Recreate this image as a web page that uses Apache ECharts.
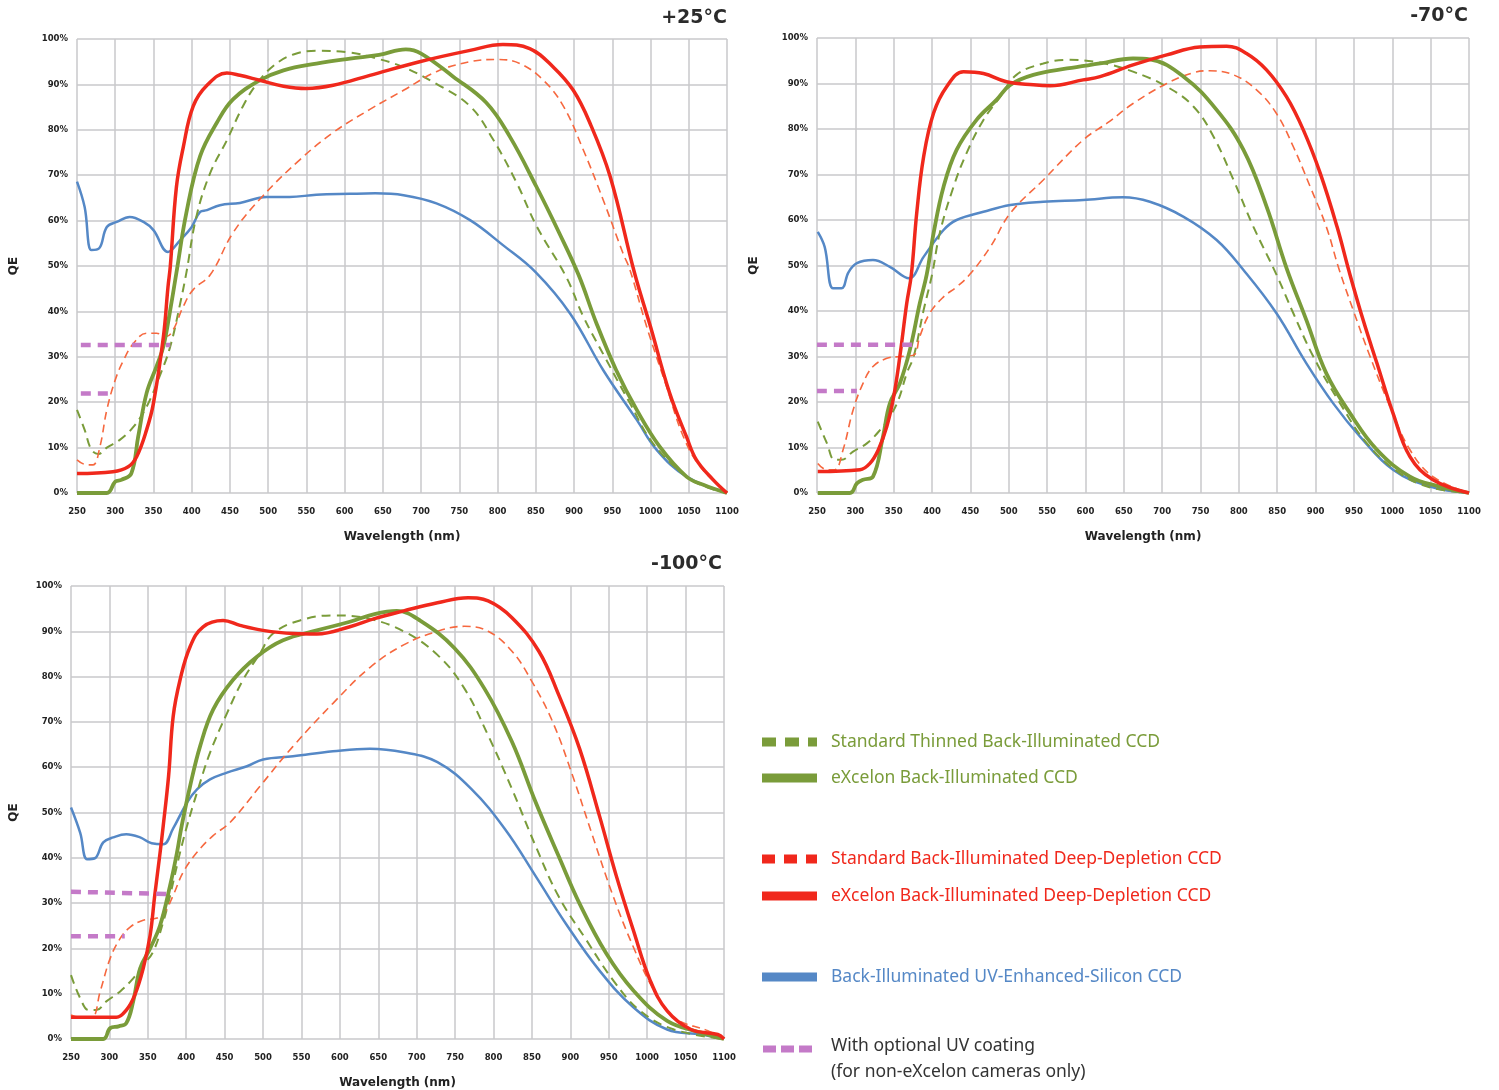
<!DOCTYPE html>
<html>
<head>
<meta charset="utf-8">
<title>CCD QE curves</title>
<script src="https://cdn.jsdelivr.net/npm/echarts@6/dist/echarts.min.js"></script>
<style>
  html, body { margin: 0; padding: 0; background: #fff; }
  #chart { width: 1499px; height: 1090px; }
</style>
</head>
<body>
<div id="chart"></div>
<script>
// [wavelength nm, QE %]
// +25°C
const stdThin25 = [[250,18.3],[260,13.9],[269,9.5],[278,8.6],[289,10],[306,11.7],[324,14.6],[341,19],[358,25.7],[372,32.3],[385,41.8],[393,48.5],[406,60.8],[424,70.4],[446,77.7],[467,85.2],[485,90.1],[507,94.1],[533,96.6],[563,97.4],[607,97],[640,95.8],[677,93.8],[720,90.1],[764,85.2],[794,77.9],[825,68.3],[851,58.8],[890,47.5],[912,38.9],[942,29.4],[973,19.8],[1003,11],[1047,3.6],[1075,1.2],[1100,0]]
const excThin25 = [[250,0],[289,0],[300,2.5],[308,2.9],[321,4.3],[330,12.4],[341,22],[354,27.9],[363,32.3],[372,40.4],[380,48.5],[393,61.7],[411,74.2],[433,81.6],[454,86.7],[489,90.9],[520,93.1],[563,94.6],[607,95.7],[645,96.5],[680,97.7],[700,96.8],[742,91.7],[785,86],[816,78.5],[851,67.4],[880,57.5],[906,48],[929,37.5],[955,27.1],[982,18.3],[1012,10.2],[1047,3.6],[1069,1.8],[1100,0]]
const stdDD25 = [[250,7.3],[263,6.2],[271,6.2],[280,10.2],[289,18.3],[300,24.9],[311,29.3],[324,33],[341,35.2],[354,35.2],[367,34.5],[376,36],[389,41.1],[402,44.8],[424,48],[454,57.3],[489,64.7],[542,73.5],[585,79.4],[633,84.5],[677,88.7],[720,92.8],[764,95],[799,95.5],[829,94.6],[860,90.9],[886,85.2],[912,75.6],[938,64.6],[964,52.8],[973,49.2],[995,36.6],[1021,23.4],[1043,12.4],[1065,5.8],[1100,0]]
const excDD25 = [[250,4.3],[297,4.7],[317,5.8],[328,8],[341,13.9],[350,19.8],[363,34.4],[369,45.4],[372,49.9],[380,67.4],[389,76.2],[402,85.2],[420,89.8],[446,92.5],[463,92],[489,90.9],[520,89.6],[550,89.1],[585,89.8],[633,92],[698,95],[764,97.5],[807,98.8],[842,97.9],[873,93.8],[899,88.7],[921,81.4],[947,69.8],[979,48.5],[1000,36.6],[1025,22],[1047,12.4],[1060,7.3],[1082,2.9],[1100,0]]
const uv25 = [[250,68.6],[260,63],[269,53.5],[279,53.9],[289,58.6],[302,59.7],[319,60.8],[337,59.7],[350,57.9],[369,53.1],[385,55.7],[400,58.6],[411,61.9],[420,62.3],[437,63.4],[463,63.9],[498,65.2],[528,65.2],[563,65.7],[607,65.9],[640,66],[677,65.6],[720,63.8],[764,60.1],[807,54.6],[850,48.6],[895,39.5],[938,27.1],[982,16.1],[1008,9.5],[1047,3.6],[1100,0]]
const coatHi25 = [[255,32.6],[372,32.6]]
const coatLo25 = [[255,21.9],[297,21.9]]

// -70°C
const stdThin70 = [[251,15.7],[263,10.9],[273,7.3],[282,7.3],[297,9.1],[315,10.9],[332,13.8],[345,16.8],[356,20.4],[367,26.3],[376,30],[389,40.2],[400,48],[410,57.1],[428,67.3],[445,74.7],[467,82],[489,87.1],[510,91.9],[545,94.4],[576,95.2],[619,94.6],[662,92.6],[706,89.3],[741,84.9],[767,78.3],[793,68.8],[819,58.5],[849,48],[871,39.5],[897,30],[932,19.7],[967,10.9],[1010,4.3],[1050,1.2],[1100,0]]
const excThin70 = [[251,0],[293,0],[302,2.1],[310,2.9],[323,3.6],[336,12.4],[345,19.7],[358,24.1],[371,31.4],[384,41.7],[393,48],[402,57.1],[415,67.3],[432,75.4],[458,82],[484,86.4],[502,89.7],[532,91.9],[576,93.3],[619,94.4],[662,95.5],[684,95.3],[728,91.5],[771,84.2],[806,75.4],[836,63],[862,49.5],[888,38],[914,26.3],[945,17.5],[980,9.5],[1023,3.6],[1062,1.4],[1100,0]]
const stdDD70 = [[251,6.5],[263,5.1],[273,5.1],[284,9.5],[297,18.2],[310,24.1],[323,27.8],[341,29.6],[358,30],[376,30.3],[384,34.4],[397,39.5],[415,43.1],[432,45.3],[449,48],[476,54.1],[502,61.5],[545,68.8],[597,77.6],[630,81.5],[662,85.6],[706,90],[741,92.4],[762,92.8],[793,91.9],[823,88.6],[849,83.4],[871,76.1],[893,67.3],[914,58.5],[930,49.5],[949,40.2],[971,30],[997,19],[1023,9.5],[1053,3.6],[1100,0]]
const excDD70 = [[251,4.7],[306,5.1],[319,6.5],[330,9.5],[341,14.6],[350,21.2],[358,30],[367,41.7],[373,48],[380,61.5],[389,73.9],[402,83.5],[419,89.3],[441,92.6],[467,92.2],[497,90.4],[532,89.7],[554,89.5],[597,90.8],[619,91.5],[662,94.1],[706,96.3],[749,98],[784,98.2],[810,96.6],[836,93],[862,87.1],[884,79.8],[906,70.3],[928,58.5],[944,48.5],[962,38],[980,28.5],[1001,17.5],[1023,8],[1053,2.9],[1100,0]]
const uv70 = [[251,57.4],[260,54.1],[271,45],[282,45],[291,48.5],[302,50.5],[323,51.2],[345,49.7],[370,47.2],[389,51.9],[415,57.8],[432,60],[467,61.8],[502,63.3],[545,64],[597,64.4],[649,65],[684,64],[728,60.7],[771,55.6],[806,49],[849,39.5],[888,28.5],[923,19.7],[958,12.4],[1001,5.1],[1049,1.4],[1100,0]]
const coatHi70 = [[250,32.6],[378,32.6]]
const coatLo70 = [[250,22.4],[302,22.4]]

// -100°C
const stdThin100 = [[250,14.1],[262,9],[273,6.4],[283,6.4],[296,8.3],[314,10.5],[331,13.4],[344,16.3],[357,19.3],[370,25.8],[379,31.7],[392,41.2],[401,47],[414,54.4],[431,63.2],[453,71.9],[474,79.3],[496,85.1],[513,89.5],[548,92.4],[591,93.5],[637,92.8],[683,90],[727,84.8],[762,77.4],[793,67],[824,55.2],[855,42.5],[885,31.4],[921,21.8],[956,12.9],[991,6.2],[1035,2.1],[1100,0]]
const excThin100 = [[250,0],[292,0],[301,2.4],[312,2.8],[322,3.5],[331,8.3],[340,15.6],[353,20],[366,25.1],[379,33.9],[388,41.2],[394,47],[405,55.8],[418,64.6],[435,72.7],[461,79.3],[492,84.4],[526,88],[570,90.2],[613,92.1],[645,93.8],[674,94.5],[705,92.3],[749,86.3],[788,77.4],[824,65.6],[855,52.2],[885,40.3],[912,29.9],[947,18.8],[982,10.7],[1026,4],[1070,1.4],[1100,0]]
const stdDD100 = [[250,5.3],[262,4.8],[277,4.8],[288,10.5],[301,17.8],[314,22.2],[327,24.7],[344,26.2],[362,26.7],[372,28],[383,31.7],[396,36.8],[414,41.2],[435,44.9],[457,47.8],[496,55.8],[539,64.6],[591,74.1],[639,82],[683,87],[727,90],[762,91.1],[793,90],[824,85.6],[850,78.9],[877,70],[903,58.1],[929,44.8],[956,31.4],[982,20.3],[1009,10.7],[1035,4.7],[1079,1.8],[1100,0]]
const excDD100 = [[250,4.8],[309,4.8],[322,6.4],[333,9.7],[344,15.6],[353,22.9],[359,31.7],[366,41.2],[370,47],[377,58],[383,71.2],[392,79.3],[405,86.6],[422,91],[448,92.4],[470,91.3],[500,90.2],[539,89.5],[570,89.4],[613,91],[645,92.8],[683,94.5],[727,96.3],[767,97.4],[793,96.7],[824,93],[859,85.6],[885,75.9],[912,64.1],[938,49.2],[960,35.9],[982,24],[1004,12.9],[1026,6.2],[1057,2.1],[1092,1],[1100,0]]
const uv100 = [[250,51.1],[262,45.5],[271,39.7],[281,39.9],[292,43.4],[305,44.5],[322,45.2],[340,44.5],[355,43.2],[370,43],[383,46.5],[401,52.2],[414,55.1],[431,57.3],[453,58.8],[479,60.2],[500,61.7],[539,62.4],[591,63.5],[639,64.1],[683,63.3],[727,61.1],[771,55.2],[815,46.3],[855,35.9],[894,25.5],[938,15.1],[982,7],[1026,2.1],[1070,1],[1100,0]]
const coatHi100 = [[250,32.5],[383,32]]
const coatLo100 = [[250,22.7],[320,22.7]]

const panelTitles = ['+25°C', '-70°C', '-100°C']
const legendLabels = [
  'Standard Thinned Back-Illuminated CCD',
  'eXcelon Back-Illuminated CCD',
  'Standard Back-Illuminated Deep-Depletion CCD',
  'eXcelon Back-Illuminated Deep-Depletion CCD',
  'Back-Illuminated UV-Enhanced-Silicon CCD',
  'With optional UV coating',
  '(for non-eXcelon cameras only)'
]

const GREEN = '#7a9c3a'
const RED = '#f0281c'
const ORANGE = '#f6683f'
const BLUE = '#5588c6'
const PURPLE = '#c47ac8'
const GRID_LINE = '#c9c9cb'
const TICK_FONT = 'DejaVu Sans'
const LEGEND_FONT = '17.5px "Noto Sans"'

const panels = [
  { grid: { left: 77, right: 772, top: 39, bottom: 597 }, title: { right: 772, top: 9 }, qeGap: 57,
    sets: [stdThin25, excThin25, stdDD25, excDD25, uv25, coatHi25, coatLo25] },
  { grid: { left: 817, right: 30, top: 38, bottom: 597 }, title: { right: 31, top: 7 }, qeGap: 57,
    sets: [stdThin70, excThin70, stdDD70, excDD70, uv70, coatHi70, coatLo70] },
  { grid: { left: 71, right: 775, top: 586, bottom: 49 }, title: { right: 777, top: 555 }, qeGap: 51,
    sets: [stdThin100, excThin100, stdDD100, excDD100, uv100, coatHi100, coatLo100] }
]

// one curve of one panel
function curve(idx, data, color, width, dash, z){
  return {
    type: 'line', xAxisIndex: idx, yAxisIndex: idx, data: data,
    showSymbol: false, smooth: 0.4, silent: true, z: z,
    lineStyle: { color: color, width: width, type: dash || 'solid', cap: 'butt' }
  }
}

const grids = [], xAxes = [], yAxes = [], titles = [], series = []
panels.forEach((p, i) => {
  grids.push(p.grid)
  titles.push(Object.assign({ text: panelTitles[i], padding: 0,
    textStyle: { fontFamily: TICK_FONT, fontWeight: 'bold', fontSize: 19, color: '#2b2b2b' } }, p.title))
  xAxes.push({
    type: 'value', gridIndex: i, min: 250, max: 1100, interval: 50,
    name: 'Wavelength (nm)', nameLocation: 'middle', nameGap: 38,
    nameTextStyle: { fontFamily: TICK_FONT, fontWeight: 'bold', fontSize: 12, color: '#222' },
    axisLine: { show: false }, axisTick: { show: false },
    axisLabel: { margin: 14, formatter: v => String(v), fontFamily: TICK_FONT, fontWeight: 'bold', fontSize: 8.5, color: '#222' },
    splitLine: { show: true, lineStyle: { color: GRID_LINE, width: 1.5 } }
  })
  yAxes.push({
    type: 'value', gridIndex: i, min: 0, max: 100, interval: 10,
    name: 'QE', nameLocation: 'middle', nameGap: p.qeGap, nameRotate: 90,
    nameTextStyle: { fontFamily: TICK_FONT, fontWeight: 'bold', fontSize: 12, color: '#222' },
    axisLine: { show: false }, axisTick: { show: false },
    axisLabel: { margin: 9, formatter: '{value}%', fontFamily: TICK_FONT, fontWeight: 'bold', fontSize: 8.5, color: '#222' },
    splitLine: { show: true, lineStyle: { color: GRID_LINE, width: 1.5 } }
  })
  const s = p.sets
  series.push(curve(i, s[4], BLUE, 2.5, null, 2))
  series.push(curve(i, s[0], GREEN, 2, [9, 6], 3))
  series.push(curve(i, s[2], ORANGE, 1.6, [8, 5], 3))
  series.push(curve(i, s[1], GREEN, 3.8, null, 4))
  series.push(curve(i, s[3], RED, 3.5, null, 5))
  series.push(curve(i, s[5], PURPLE, 4.5, [10, 7], 6))
  series.push(curve(i, s[6], PURPLE, 4.5, [10, 7], 6))
})

// legend in the empty lower right quarter
const LEG_X = 762, TXT_X = 831
const legendRows = [
  { y: 742, color: GREEN, dash: [14, 9], text: legendLabels[0] },
  { y: 778, color: GREEN, dash: null, text: legendLabels[1] },
  { y: 859, color: RED, dash: [13, 9], text: legendLabels[2] },
  { y: 896, color: RED, dash: null, text: legendLabels[3] },
  { y: 977, color: BLUE, dash: null, text: legendLabels[4] }
]
const graphics = []
legendRows.forEach(r => {
  graphics.push({ type: 'line', shape: { x1: LEG_X, y1: r.y, x2: 817, y2: r.y },
    style: { stroke: r.color, lineWidth: 9, lineDash: r.dash || null } })
  graphics.push({ type: 'text', x: TXT_X, y: r.y, style: { text: r.text, fill: r.color,
    font: LEGEND_FONT, verticalAlign: 'middle' } })
})
graphics.push({ type: 'line', shape: { x1: 763, y1: 1049, x2: 815, y2: 1049 },
  style: { stroke: PURPLE, lineWidth: 7, lineDash: [13, 5] } })
graphics.push({ type: 'text', x: TXT_X, y: 1046, style: { text: legendLabels[5], fill: '#333',
  font: LEGEND_FONT, verticalAlign: 'middle' } })
graphics.push({ type: 'text', x: TXT_X, y: 1072, style: { text: legendLabels[6], fill: '#333',
  font: LEGEND_FONT, verticalAlign: 'middle' } })

const chart = echarts.init(document.getElementById('chart'))
chart.setOption({
  backgroundColor: '#fff',
  animation: false,
  title: titles,
  grid: grids,
  xAxis: xAxes,
  yAxis: yAxes,
  series: series,
  graphic: graphics
})
</script>
</body>
</html>
